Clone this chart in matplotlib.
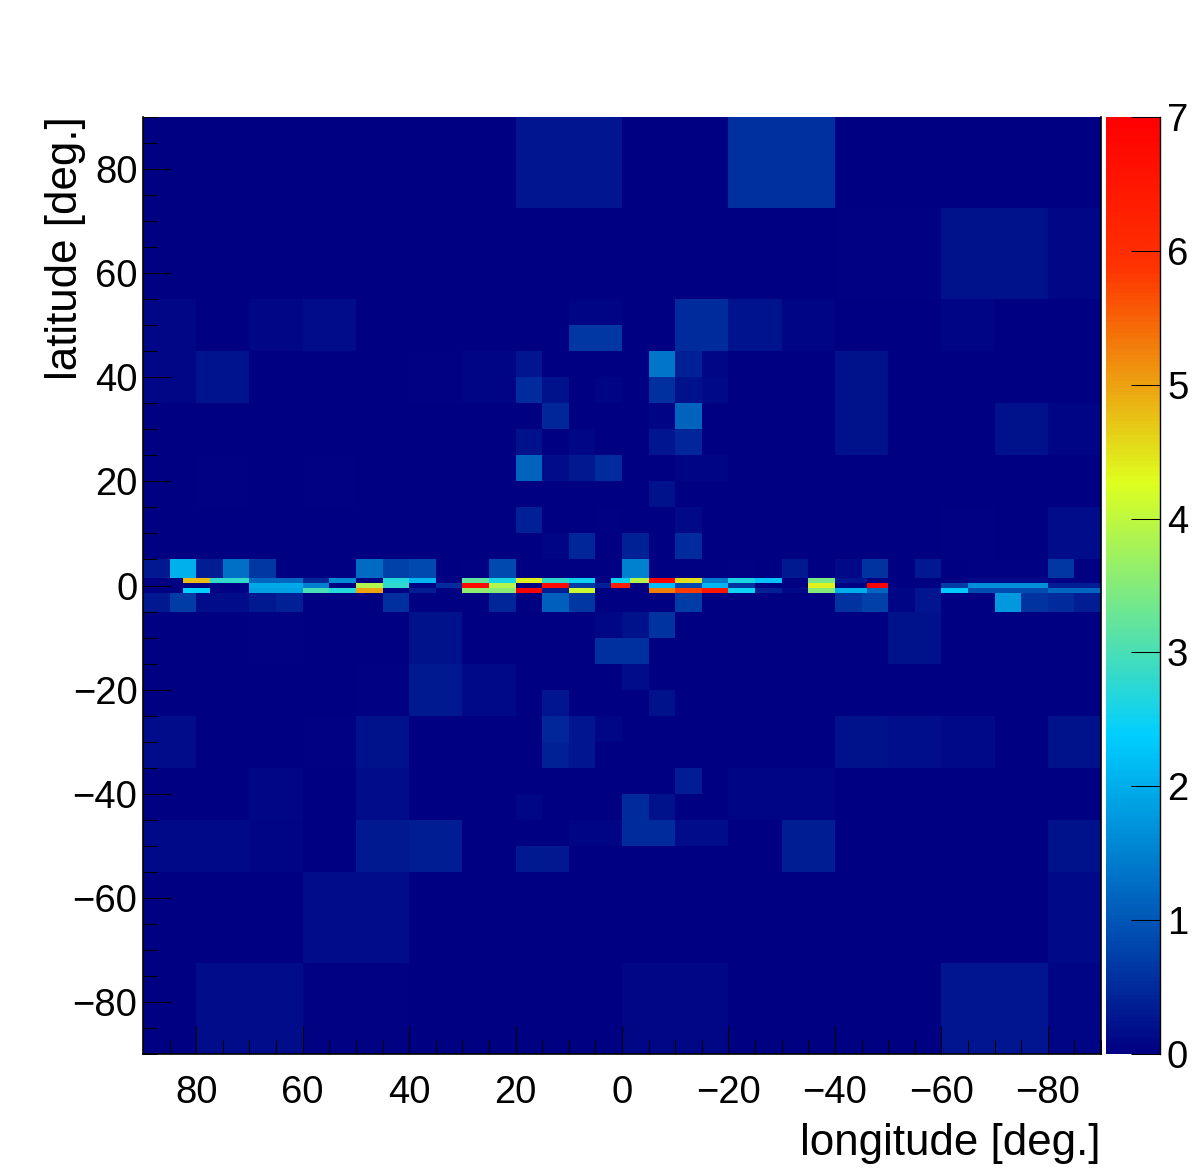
import matplotlib
matplotlib.use("Agg")
import matplotlib.pyplot as plt
import numpy as np
from matplotlib.colors import LinearSegmentedColormap, Normalize
from matplotlib.ticker import MultipleLocator

plt.rcParams['font.family'] = ['Liberation Sans', 'DejaVu Sans']

# Latitude edges, top to bottom
lat_edges = [90, 72.5, 55, 50, 45, 40, 35, 30, 25, 20, 15, 10, 5, 1.5, 0.5, -0.5, -1.5,
             -5, -10, -15, -20, -25, -30, -35, -40, -45, -50, -55, -72.5, -90]

# Regular 5-degree longitude bins
lon_edges = [90, 85, 80, 75, 70, 65, 60, 55, 50, 45, 40, 35, 30, 25, 20, 15, 10, 5, 0,
             -5, -10, -15, -20, -25, -30, -35, -40, -45, -50, -55, -60, -65, -70, -75, -80, -85, -90]

# Irregular longitude bins of the three rows next to the equator
band_lon_edges = [90, 82.5, 77.5, 70, 60, 55, 50, 45, 40, 35, 30, 25, 20, 15, 10, 5, 2, -1.5, -5,
                  -10, -15, -20, -25, -30, -35, -40, -46, -50, -55, -60, -65, -80, -90]

north_rows = [
 [0,0,0,0,0,0,0,0,0,0,0,0,0,0,.25,.25,.25,.25,0,0,0,0,.55,.55,.55,.55,0,0,0,0,0,0,0,0,0,0],
 [0,0,0,0,0,0,0,0,0,0,0,0,0,0,0,0,0,0,0,0,0,0,0,0,0,0,.05,.05,.05,.05,.2,.2,.2,.2,.1,.1],
 [.1,.1,0,0,.1,.1,.15,.15,0,0,0,0,0,0,0,0,.08,.08,0,0,.5,.5,.22,.22,.07,.07,0,0,0,0,.07,.07,0,0,0,0],
 [.1,.1,0,0,.1,.1,.15,.15,0,0,0,0,0,0,0,0,.65,.65,0,0,.5,.5,.22,.22,.07,.07,0,0,0,0,.07,.07,0,0,0,0],
 [.1,.1,.22,.22,0,0,0,0,0,0,.03,.03,.07,.07,.25,0,0,0,0,1.35,.4,.1,0,0,0,0,.2,.2,0,0,0,0,0,0,0,0],
 [.1,.1,.22,.22,0,0,0,0,0,0,.03,.03,.07,.07,.5,.2,0,.08,0,.55,.2,.12,0,0,0,0,.2,.2,0,0,0,0,0,0,0,0],
 [0,0,0,0,0,0,0,0,0,0,0,0,0,0,.01,.45,0,0,0,.08,1.15,0,0,0,0,0,.2,.2,0,0,0,0,.2,.2,.08,.08],
 [0,0,0,0,0,0,0,0,0,0,0,0,0,0,.2,.02,.1,0,0,.25,.45,0,0,0,0,0,.2,.2,0,0,0,0,.2,.2,.08,.08],
 [0,0,.05,.05,0,0,.05,.05,0,0,0,0,0,0,1.15,.15,.3,.5,0,0,.08,.08,0,0,0,0,0,0,0,0,0,0,0,0,0,0],
 [0,0,.05,.05,0,0,.05,.05,0,0,0,0,0,0,0,.02,0,0,0,.2,0,0,0,0,0,0,0,0,0,0,0,0,0,0,0,0],
 [0,0,0,0,0,0,0,0,0,0,0,0,0,0,.4,0,0,.05,0,0,.12,0,0,0,0,0,0,0,0,0,.03,.03,0,0,.15,.15],
 [0,0,0,0,0,0,0,0,0,0,0,0,0,0,0,.08,.45,0,.4,0,.5,0,0,0,0,0,0,0,0,0,.03,.03,0,0,.15,.15],
 [.3,2.05,.35,1.3,.65,0,0,0,1.25,.75,.85,0,.05,.85,0,0,0,0,1.5,0,0,0,.03,0,.3,0,.12,.6,0,.3,0,.03,.03,.03,.65,0],
]

band_upper = [0,4.8,2.8,1.2,.45,1.6,0,2.7,2.1,.05,3.2,2.6,4.4,2.8,2.5,0,2.5,3.9,7,4.5,1.4,2.6,2.25,0,3.4,.25,0,0,0,0,.12,0]
band_middle = [0,0,0,1.95,1.5,0,3.9,2.8,.05,.5,6.7,3.9,0,6.8,.7,.4,6.3,0,2.2,.85,2.1,.6,0,0,4.4,0,7,0,0,.7,1.65,.35]
band_lower = [.02,2.4,.05,1.85,3.0,2.7,5.0,0,.35,0,3.6,3.55,7,.35,4.1,0,0,0,5.3,5.8,6.5,2.5,.4,.12,3.5,2.0,1.2,.1,.25,2.3,.9,1.2]

south_rows = [
 [.3,.7,.15,.15,.3,.4,0,0,0,.55,0,0,0,.45,0,1.1,.65,0,0,0,.7,0,0,0,0,0,.6,.75,.08,.25,0,0,1.75,.6,.5,.35],
 [0,0,0,0,.05,.05,0,0,0,0,.2,.2,0,0,0,0,0,.1,.2,.6,0,0,0,0,0,0,0,0,.2,.2,0,0,0,0,0,0],
 [0,0,0,0,.05,.05,0,0,0,0,.2,.2,0,0,0,0,0,.55,.55,0,0,0,0,0,0,0,0,0,.2,.2,0,0,0,0,0,0],
 [0,0,0,0,0,0,0,0,.05,.05,.3,.3,.12,.12,0,0,0,0,.15,0,0,0,0,0,0,0,0,0,0,0,0,0,0,0,0,0],
 [0,0,0,0,0,0,0,0,.05,.05,.3,.3,.12,.12,0,.25,0,0,0,.2,0,0,0,0,0,0,0,0,0,0,0,0,0,0,0,0],
 [.15,.15,0,0,0,0,.05,.05,.2,.2,0,0,0,0,0,.45,.25,.1,0,0,0,0,0,0,0,0,.2,.2,.17,.17,.12,.12,0,0,.2,.2],
 [.15,.15,0,0,0,0,.05,.05,.2,.2,0,0,0,0,0,.4,.25,0,0,0,0,0,0,0,0,0,.2,.2,.17,.17,.12,.12,0,0,.2,.2],
 [0,0,0,0,.1,.1,0,0,.15,.15,0,0,0,0,0,0,0,0,0,0,.35,0,.07,.07,.07,.07,0,0,.02,.02,.02,.02,0,0,0,0],
 [0,0,0,0,.1,.1,0,0,.15,.15,0,0,0,0,.1,0,0,0,.5,.2,0,0,.07,.07,.07,.07,0,0,.02,.02,.02,.02,0,0,0,0],
 [.12,.12,.12,.12,.08,.08,0,0,.3,.3,.33,.33,0,0,0,0,.08,.08,.5,.5,.15,.15,0,0,.35,.35,0,0,0,0,0,0,0,0,.2,.2],
 [.12,.12,.12,.12,.08,.08,0,0,.3,.3,.33,.33,0,0,.3,.3,0,0,0,0,0,0,0,0,.35,.35,0,0,0,0,0,0,0,0,.2,.2],
 [0,0,0,0,0,0,.15,.15,.15,.15,0,0,0,0,0,0,0,0,0,0,0,0,0,0,0,0,0,0,0,0,0,0,0,0,.12,.12],
 [0,0,.15,.15,.15,.15,.05,.05,.05,.05,0,0,0,0,0,0,0,0,.1,.1,.1,.1,0,0,0,0,0,0,0,0,.25,.25,.25,.25,.07,.07],
]

color_stops = [0.0, 0.34, 0.61, 0.84, 1.0]
color_values = [(0.0, 0.0, 0.51), (0.0, 0.81, 1.0), (0.87, 1.0, 0.12), (1.0, 0.2, 0.0), (1.0, 0.0, 0.0)]
cmap = LinearSegmentedColormap.from_list("root", list(zip(color_stops, color_values)), N=256)
norm = Normalize(0, 7)

W, H = 1196, 1172
fig = plt.figure(figsize=(W / 100, H / 100), dpi=100, facecolor="white")
L, R, T, B = 143, 1101, 117, 1054
ax = fig.add_axes([L / W, 1 - B / H, (R - L) / W, (B - T) / H])

row_values = north_rows + [band_upper, band_middle, band_lower] + south_rows
mesh = None
for k, vals in enumerate(row_values):
    edges = band_lon_edges if len(vals) == len(band_lon_edges) - 1 else lon_edges
    mesh = ax.pcolormesh(edges, [lat_edges[k + 1], lat_edges[k]], np.array([vals], dtype=float),
                         cmap=cmap, norm=norm, shading="flat", antialiased=False, linewidth=0)

ax.set_xlim(90, -90)
ax.set_ylim(-90, 90)
ax.xaxis.set_major_locator(MultipleLocator(20))
ax.xaxis.set_minor_locator(MultipleLocator(5))
ax.yaxis.set_major_locator(MultipleLocator(20))
ax.yaxis.set_minor_locator(MultipleLocator(5))
ax.tick_params(which="major", direction="in", length=20, width=0.75, labelsize=27.5, pad=15)
ax.tick_params(which="minor", direction="in", length=10, width=0.75)
ax.tick_params(axis="y", which="major", pad=4)
ax.spines["top"].set_visible(False)
for s in ("left", "bottom", "right"):
    ax.spines[s].set_linewidth(1.2)

fig.text(1101 / W, 1 - 1143 / H, "longitude [deg.]", ha="right", va="center", fontsize=31.6)
fig.text(66 / W, 1 - 116 / H, "latitude [deg.]", ha="center", va="top", rotation=90, fontsize=31.6)

cax = fig.add_axes([1106 / W, 1 - B / H, 54 / W, (B - T) / H])
cbar = fig.colorbar(mesh, cax=cax)
cbar.outline.set_visible(False)
cbar.set_ticks(range(0, 8))
cax.tick_params(axis="y", which="major", direction="in", length=21, width=0.75, labelsize=27.5, pad=5, right=True)
cax.minorticks_off()
for s in cax.spines.values():
    s.set_visible(False)
cax.spines["right"].set_visible(True)
cax.spines["right"].set_linewidth(1.0)

fig.savefig("out.png", dpi=100)
